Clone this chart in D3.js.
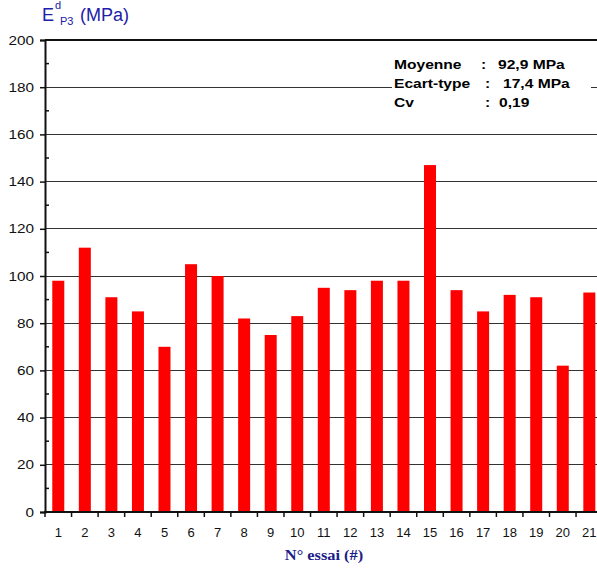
<!DOCTYPE html>
<html><head><meta charset="utf-8">
<script src="https://cdn.jsdelivr.net/npm/d3@7"></script>
<style>body{margin:0;background:#fff;} svg{display:block;}</style>
</head><body>
<svg id="c" width="597" height="569"></svg>
<script>
const categories = ["1","2","3","4","5","6","7","8","9","10","11","12","13","14","15","16","17","18","19","20","21"];
const values = [98,112,91,85,70,105,100,82,75,83,95,94,98,98,147,94,85,92,91,62,93];
const yTicks = [0,20,40,60,80,100,120,140,160,180,200];
const yMinorTicks = [10,30,50,70,90,110,130,150,170,190];
const statLabels = ["Moyenne","Ecart-type","Cv"];
const statValues = ["92,9 MPa","17,4 MPa","0,19"];

const svg = d3.select("#c");
const L = 45, R = 602.6, T = 40, B = 512;
const x = d3.scaleBand().domain(categories).range([L, R]).paddingInner(0).paddingOuter(0);
const y = d3.scaleLinear().domain([0, 200]).range([B, T]);
const font = "Arial, 'Liberation Sans', sans-serif";

function stretch(sel, sx) {
  sel.each(function () {
    const t = d3.select(this);
    const tx = +t.attr("x") || 0;
    t.attr("transform", `translate(${tx * (1 - sx)},0) scale(${sx},1)`);
  });
}

// gridlines
svg.append("g").selectAll("line").data(yTicks.filter(d => d > 0 && d < 200)).join("line")
  .attr("x1", L).attr("x2", 597).attr("y1", d => y(d)).attr("y2", d => y(d))
  .attr("stroke", "#333").attr("stroke-width", 1).attr("shape-rendering", "crispEdges");

// stats box background
svg.append("rect").attr("x", 392).attr("y", 46).attr("width", 199).attr("height", 66).attr("fill", "#fff");

// bars
const bw = 12;
svg.append("g").selectAll("rect").data(values).join("rect")
  .attr("x", (d, i) => x(categories[i]) + x.bandwidth() / 2 - bw / 2)
  .attr("width", bw)
  .attr("y", d => y(d))
  .attr("height", d => y(0) - y(d))
  .attr("fill", "#ff0000");

// top border
svg.append("line").attr("x1", L).attr("x2", 597).attr("y1", T).attr("y2", T)
  .attr("stroke", "#111").attr("stroke-width", 2);

// y axis
const ya = d3.axisLeft(y).tickValues(yTicks).tickSize(5).tickPadding(4).tickFormat(d3.format("d"));
const yg = svg.append("g").attr("transform", `translate(${L},0)`).call(ya);
yg.select(".domain").attr("stroke", "#111").attr("stroke-width", 2);
yg.selectAll(".tick line").attr("stroke", "#111").attr("stroke-width", 1.5);
yg.selectAll("text").attr("font-family", font).attr("font-size", 13).attr("fill", "#111").attr("x", -11);
stretch(yg.selectAll("text"), 1.18);
svg.append("g").selectAll("line").data(yMinorTicks).join("line")
  .attr("x1", L).attr("x2", L + 4).attr("y1", d => y(d)).attr("y2", d => y(d))
  .attr("stroke", "#111").attr("stroke-width", 1.5);

// x axis
const xa = d3.axisBottom(x).tickSize(0).tickPadding(16);
const xg = svg.append("g").attr("transform", `translate(0,${B})`).call(xa);
xg.select(".domain").remove();
xg.selectAll("text").attr("font-family", font).attr("font-size", 13).attr("fill", "#111");
svg.append("line").attr("x1", L - 1).attr("x2", 597).attr("y1", B).attr("y2", B)
  .attr("stroke", "#111").attr("stroke-width", 2);
const bounds = categories.map(c => x(c)).concat([R]);
svg.append("g").selectAll("line").data(bounds).join("line")
  .attr("x1", d => d).attr("x2", d => d).attr("y1", B).attr("y2", B + 5)
  .attr("stroke", "#111").attr("stroke-width", 1.5);

// x title
const xt = svg.append("text").attr("x", 324).attr("y", 560).attr("text-anchor", "middle")
  .attr("font-family", "'Liberation Serif', 'Times New Roman', serif").attr("font-weight", "bold")
  .attr("font-size", 14).attr("fill", "#1c1c8a").text("N° essai (#)");
stretch(xt, 1.17);

// y title
const tg = svg.append("g").attr("font-family", font).attr("fill", "#2020a8");
tg.append("text").attr("x", 42).attr("y", 21).attr("font-size", 18).text("E");
tg.append("text").attr("x", 55).attr("y", 9).attr("font-size", 11).text("d");
tg.append("text").attr("x", 60).attr("y", 25).attr("font-size", 11).text("P3");
tg.append("text").attr("x", 80).attr("y", 21).attr("font-size", 18).text("(MPa)");

// stats
const sg = svg.append("g").attr("font-family", font).attr("font-weight", "bold").attr("font-size", 13).attr("fill", "#000");
const rowY = [69, 88, 107];
const colonX = [481, 485, 485];
const valX = [498, 503, 499];
statLabels.forEach((s, i) => {
  sg.append("text").attr("x", 394).attr("y", rowY[i]).text(s);
  sg.append("text").attr("x", colonX[i]).attr("y", rowY[i]).text(":");
  sg.append("text").attr("x", valX[i]).attr("y", rowY[i]).text(statValues[i]);
});
stretch(sg.selectAll("text"), 1.2);
</script>
</body></html>
